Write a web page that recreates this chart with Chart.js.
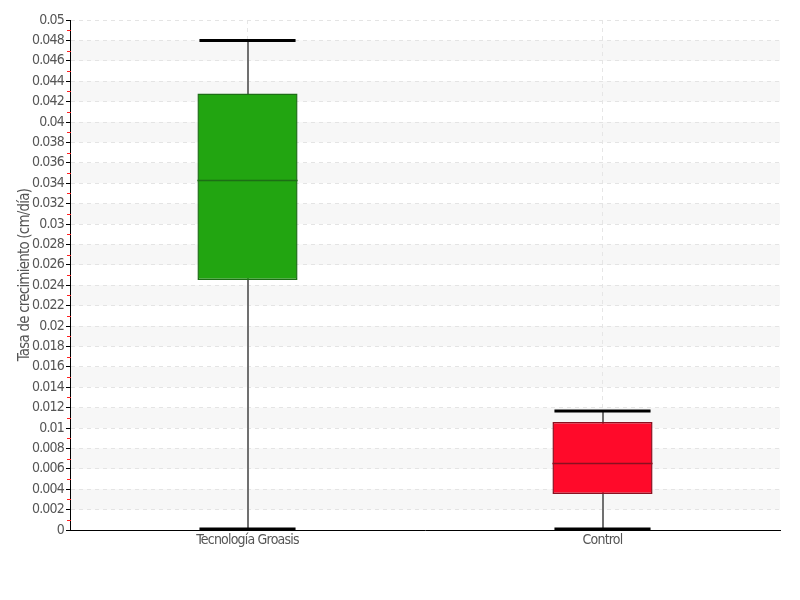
<!DOCTYPE html>
<html><head><meta charset="utf-8">
<script src="https://cdn.jsdelivr.net/npm/chart.js@4"></script>
<style>html,body{margin:0;padding:0;background:#fff}#wrap{width:800px;height:600px}</style>
</head><body><div id="wrap"><canvas id="c" width="800" height="600"></canvas></div>
<script>
const categories = ["Tecnología Groasis", "Control"];
const whiskerMin = [0.0001, 0.0001];
const q1Values = [0.0245, 0.00353];
const medianValues = [0.0343, 0.00657];
const q3Values = [0.0428, 0.01059];
const whiskerMax = [0.048, 0.01167];
const boxColors = ["#22a511", "#ff0a2a"];
const boxBorders = ["#1d6e16", "#8a1020"];
const yTicks = [0,0.002,0.004,0.006,0.008,0.01,0.012,0.014,0.016,0.018,0.02,0.022,0.024,0.026,0.028,0.03,0.032,0.034,0.036,0.038,0.04,0.042,0.044,0.046,0.048,0.05];
const FONT = "'DejaVu Sans Condensed', 'DejaVu Sans', sans-serif";

const bandsPlugin = {
  id: 'bands',
  beforeDraw(chart) {
    const {ctx, chartArea, scales:{y}} = chart;
    ctx.letterSpacing = '-0.8px';
    ctx.save();
    ctx.fillStyle = '#f7f7f7';
    for (let i = 1; i < yTicks.length - 1; i += 2) {
      const a = y.getPixelForValue(yTicks[i]);
      const b = y.getPixelForValue(yTicks[i+1]);
      ctx.fillRect(chartArea.left, b, chartArea.right - chartArea.left, a - b);
    }
    ctx.restore();
  }
};

const boxPlugin = {
  id: 'boxes',
  beforeDatasetsDraw(chart) {
    const {ctx, scales:{x, y}} = chart;
    ctx.save();
    categories.forEach((c, i) => {
      const cx = Math.round(x.getPixelForValue(i));
      ctx.strokeStyle = '#707070';
      ctx.lineWidth = 2;
      ctx.beginPath();
      ctx.moveTo(cx, y.getPixelForValue(whiskerMin[i]));
      ctx.lineTo(cx, y.getPixelForValue(whiskerMax[i]));
      ctx.stroke();
    });
    ctx.restore();
  },
  afterDatasetsDraw(chart) {
    const {ctx, scales:{x, y}} = chart;
    const meta = chart.getDatasetMeta(0);
    ctx.save();
    categories.forEach((c, i) => {
      const bar = meta.data[i];
      const cx = x.getPixelForValue(i);
      const half = bar.width / 2;
      ctx.strokeStyle = boxBorders[i];
      ctx.lineWidth = 1.5;
      const my = Math.round(y.getPixelForValue(medianValues[i])) + 0.5;
      ctx.beginPath();
      ctx.moveTo(cx - half, my);
      ctx.lineTo(cx + half, my);
      ctx.stroke();
      ctx.strokeStyle = '#000';
      ctx.lineWidth = 3;
      [whiskerMin[i], whiskerMax[i]].forEach(v => {
        const py = y.getPixelForValue(v);
        ctx.beginPath();
        ctx.moveTo(cx - half + 2, py);
        ctx.lineTo(cx + half - 2, py);
        ctx.stroke();
      });
    });
    ctx.restore();
  },
  afterDraw(chart) {
    const {ctx, chartArea, scales:{y}} = chart;
    ctx.save();
    ctx.strokeStyle = '#ff2020';
    ctx.lineWidth = 1;
    for (let i = 0; i < yTicks.length - 1; i++) {
      const v = (yTicks[i] + yTicks[i+1]) / 2;
      const py = Math.round(y.getPixelForValue(v)) + 0.5;
      ctx.beginPath();
      ctx.moveTo(chartArea.left - 3, py);
      ctx.lineTo(chartArea.left + 1, py);
      ctx.stroke();
    }
    ctx.restore();
  }
};

const fontSpec = {family: FONT, size: 14};

new Chart(document.getElementById('c'), {
  type: 'bar',
  data: {
    labels: categories,
    datasets: [{
      data: categories.map((c, i) => [q1Values[i], q3Values[i]]),
      backgroundColor: boxColors,
      borderColor: boxBorders,
      borderWidth: 1.5,
      borderSkipped: false,
      barPercentage: 0.282,
      categoryPercentage: 1
    }]
  },
  options: {
    responsive: false,
    animation: false,
    layout: {padding: {top: 20, right: 20, left: 0, bottom: 0}},
    plugins: {legend: {display: false}, tooltip: {enabled: false}},
    scales: {
      x: {
        offset: true,
        afterFit(s) { s.height = 70; },
        grid: {offset: false, color: '#e6e6e6', drawTicks: false, tickLength: 0},
        border: {color: '#000', width: 1, dash: [4, 4]},
        ticks: {color: '#555', font: fontSpec, padding: 2}
      },
      y: {
        min: 0, max: 0.05,
        afterFit(s) { s.width = 70; },
        afterBuildTicks(s) { s.ticks = yTicks.map(v => ({value: v})); },
        title: {display: true, text: 'Tasa de crecimiento (cm/día)', color: '#555', font: {family: FONT, size: 15}, padding: {top: 16, bottom: 0}},
        grid: {color: '#e4e4e4', tickColor: '#000', tickLength: 4, tickBorderDash: []},
        border: {color: '#000', width: 1, dash: [4, 4]},
        ticks: {color: '#555', font: fontSpec, padding: 2, callback: (v) => String(+v.toFixed(3))}
      }
    }
  },
  plugins: [bandsPlugin, boxPlugin]
});
</script></body></html>
